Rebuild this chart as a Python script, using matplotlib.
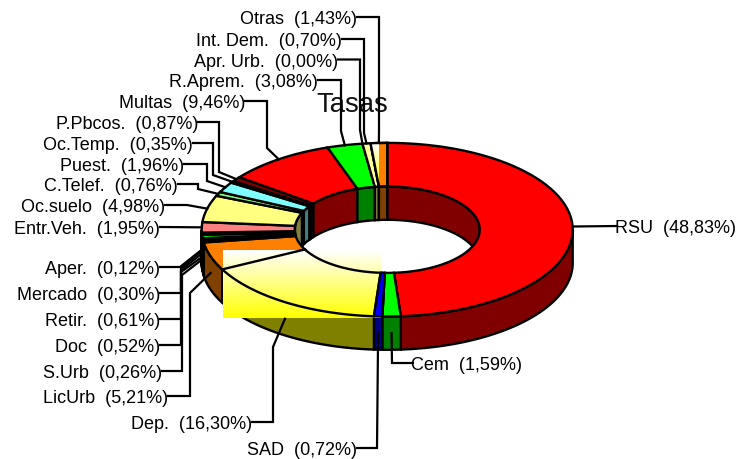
import numpy as np
import matplotlib
matplotlib.use("Agg")
import matplotlib.pyplot as plt
from matplotlib.colors import LinearSegmentedColormap
from matplotlib.patches import Polygon

plt.rcParams["font.family"] = ["Liberation Sans", "DejaVu Sans"]

# valores de la tarta, en el orden de las agujas del reloj desde arriba
names = ["RSU", "Cem", "SAD", "Dep.", "LicUrb", "S.Urb", "Doc", "Retir.", "Mercado", "Aper.",
         "Entr.Veh.", "Oc.suelo", "C.Telef.", "Puest.", "Oc.Temp.", "P.Pbcos.", "Multas",
         "R.Aprem.", "Apr. Urb.", "Int. Dem.", "Otras"]
values = [48.83, 1.59, 0.72, 16.30, 5.21, 0.26, 0.52, 0.61, 0.30, 0.12,
          1.95, 4.98, 0.76, 1.96, 0.35, 0.87, 9.46, 3.08, 0.00, 0.70, 1.43]
colors = ["#ff0000", "#00ff00", "#0000ff", "#ffff00", "#ff8000", "#000000", "#000000", "#00ff00",
          "#000000", "#000000", "#ff8080", "#ffff80", "#80ff80", "#80ffff", "#000000", "#800000",
          "#ff0000", "#00ff00", "#ffffff", "#ffff99", "#ff8000"]

# etiquetas: punto donde acaba el texto y codo de la linea guia
label_x = [617, 413, 357, 252, 168, 162, 160, 160, 160, 160,
           160, 165, 178, 184, 193, 198, 245, 318, 338, 342, 357]
label_y = [226, 363, 448, 422, 396, 371, 345, 319, 293, 267,
           227, 205, 184, 164, 143, 122, 101, 80, 59.5, 39, 17]
elbow_x = [617, 392, 377, 273, 190, 182, 181, 181, 181, 180,
           160, 187, 198, 207, 213, 219, 267, 341, 360, 364, 379]
elbow_y = [226, 363, 448, 347, 293, 275, 272, 270, 268, 267,
           227, 205, 189, 181, 175, 172, 148, 131, 130, 133, 130]

cx, cy = 387.2, 229.7
a_out, b_out = 185.5, 86.8
a_in, b_in = 92.5, 43.2
depth = 33.3
lw = 1.7


def arc(f0, f1, a, b, dy=0):
    t = np.linspace(f0, f1, max(2, int(abs(f1 - f0) * 400) + 2)) * 2 * np.pi
    return np.column_stack([cx + a * np.sin(t), cy - b * np.cos(t) + dy])


def dark(col):
    return tuple(c * 0.5 for c in matplotlib.colors.to_rgb(col))


def top_poly(f0, f1):
    return np.vstack([arc(f0, f1, a_out, b_out), arc(f1, f0, a_in, b_in)])


fig = plt.figure(figsize=(7.38, 4.59), dpi=100)
ax = fig.add_axes([0, 0, 1, 1])

edges = np.cumsum([0] + values) / sum(values)
starts, ends = edges[:-1], edges[1:]

for f0, f1, col in zip(starts, ends, colors):
    if f1 <= f0:
        continue
    # pared exterior, solo la mitad delantera
    g0, g1 = max(f0, 0.25), min(f1, 0.75)
    if g1 > g0:
        wall = np.vstack([arc(g0, g1, a_out, b_out), arc(g1, g0, a_out, b_out, depth)])
        ax.add_patch(Polygon(wall, fc=dark(col), ec="black", lw=lw, zorder=1))
    # pared interior, solo la mitad trasera
    for g0, g1 in [(max(f0, 0), min(f1, 0.25)), (max(f0, 0.75), min(f1, 1))]:
        if g1 > g0:
            wall = np.vstack([arc(g0, g1, a_in, b_in), arc(g1, g0, a_in, b_in, depth)])
            ax.add_patch(Polygon(wall, fc=dark(col), ec="black", lw=lw, zorder=2))
    ax.add_patch(Polygon(top_poly(f0, f1), fc=col, ec="black", lw=lw, zorder=3))

# degradados blanco-amarillo
grad = np.linspace(0, 1, 128).reshape(-1, 1)
cmap = LinearSegmentedColormap.from_list("wy", ["#ffffff", "#ffff00"])

dep = names.index("Dep.")
ax.imshow(grad, cmap=cmap, extent=(223, 381, 318, 250), aspect="auto", zorder=4)
ax.add_patch(Polygon(top_poly(starts[dep], ends[dep]), fc="none", ec="black", lw=lw, zorder=5))
sad = names.index("SAD")
ax.add_patch(Polygon(top_poly(starts[sad], ends[sad]), fc=colors[sad], ec="black", lw=lw, zorder=5))

otras = names.index("Otras")
im = ax.imshow(grad, cmap=cmap, extent=(371, 379, 187, 143), aspect="auto", zorder=3.5)
clip = Polygon(top_poly(starts[otras], ends[otras]), transform=ax.transData)
im.set_clip_path(clip)
ax.add_patch(Polygon(top_poly(starts[otras], ends[otras]), fc="none", ec="black", lw=lw, zorder=5))

# lineas guia y textos
for i, name in enumerate(names):
    f = (starts[i] + ends[i]) / 2
    p = arc(f, f, a_out, b_out, depth / 2 if 0.25 < f < 0.75 else 0)[0]
    xs = [label_x[i], elbow_x[i], elbow_x[i], p[0]]
    ys = [label_y[i], label_y[i], elbow_y[i], p[1]]
    ax.plot(xs, ys, color="black", lw=1.6, solid_joinstyle="miter", zorder=6)
    text = name + "  (" + f"{values[i]:.2f}".replace(".", ",") + "%)"
    ha = "left" if name in ("RSU", "Cem") else "right"
    ax.text(label_x[i] - (2 if ha == "left" else 0), label_y[i] + 2.7, text, ha=ha, va="center",
            fontsize=13, color="black", zorder=7)

ax.text(352, 105, "Tasas", ha="center", va="center", fontsize=19.8, color="#111111", zorder=5.5)

ax.set_xlim(0, 738)
ax.set_ylim(459, 0)
ax.axis("off")
fig.savefig("out.png", dpi=100)
